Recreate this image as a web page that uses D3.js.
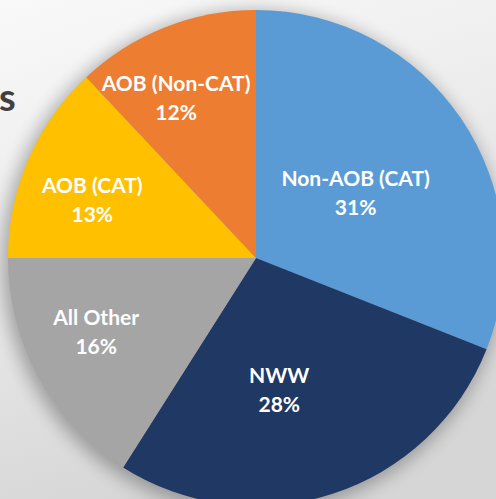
<!DOCTYPE html>
<html>
<head>
<meta charset="utf-8">
<script src="https://cdn.jsdelivr.net/npm/d3@7"></script>
<style>
  html, body { margin: 0; padding: 0; overflow: hidden; }
  svg { display: block; }
</style>
</head>
<body>
<div id="chart"></div>
<script>
// chart data
var categories = ["Non-AOB (CAT)", "NWW", "All Other", "AOB (CAT)", "AOB (Non-CAT)"];
var shares = [31, 28, 16, 13, 12];
var colors = ["#5b9bd5", "#1f3864", "#a5a5a5", "#ffc000", "#ed7d31"];

// label placement, as radius fraction and angle nudge (degrees)
var labelR = [0.48, 0.54, 0.71, 0.70, 0.72];
var labelNudge = [1, 8, 4, -4, -5];

var width = 496, height = 499;
var cx = 256, cy = 258, radius = 248;

var svg = d3.select("#chart")
  .append("svg")
  .attr("width", width)
  .attr("height", height);

var defs = svg.append("defs");

// background gradient
var bg = defs.append("linearGradient")
  .attr("id", "bg")
  .attr("x1", "0").attr("y1", "0")
  .attr("x2", "0.3").attr("y2", "1");
bg.append("stop").attr("offset", "0").attr("stop-color", "#f9f9f9");
bg.append("stop").attr("offset", "0.45").attr("stop-color", "#ececec");
bg.append("stop").attr("offset", "1").attr("stop-color", "#d6d6d6");

svg.append("rect")
  .attr("width", width)
  .attr("height", height)
  .attr("fill", "url(#bg)");

// soft shadow
var shadow = defs.append("filter")
  .attr("id", "shadow")
  .attr("x", "-20%").attr("y", "-20%")
  .attr("width", "140%").attr("height", "140%");
shadow.append("feGaussianBlur").attr("stdDeviation", 9);

// cut off title letter
svg.append("text")
  .attr("x", -1)
  .attr("y", 111)
  .attr("font-family", "Lato, 'Open Sans', sans-serif")
  .attr("font-weight", "bold")
  .attr("font-size", 38)
  .attr("fill", "#404040")
  .text("s");

var g = svg.append("g")
  .attr("transform", "translate(" + cx + "," + cy + ")");

g.append("circle")
  .attr("r", radius + 3)
  .attr("cx", -3)
  .attr("cy", 4)
  .attr("fill", "#000")
  .attr("opacity", 0.3)
  .attr("filter", "url(#shadow)");

var data = categories.map(function(c, i) { return {name: c, value: shares[i], i: i}; });

var pie = d3.pie()
  .value(function(d) { return d.value; })
  .sort(null);

var arc = d3.arc()
  .innerRadius(0)
  .outerRadius(radius);

var arcs = pie(data);

g.selectAll("path.slice")
  .data(arcs)
  .enter()
  .append("path")
  .attr("class", "slice")
  .attr("d", arc)
  .attr("fill", function(d) { return colors[d.data.i]; });

var labels = g.selectAll("g.label")
  .data(arcs)
  .enter()
  .append("g")
  .attr("class", "label")
  .attr("transform", function(d) {
    var a = (d.startAngle + d.endAngle) / 2 + labelNudge[d.data.i] * Math.PI / 180;
    var p = d3.pointRadial(a, radius * labelR[d.data.i]);
    return "translate(" + p[0] + "," + p[1] + ")";
  })
  .attr("font-family", "Lato, 'Open Sans', sans-serif")
  .attr("font-weight", "bold")
  .attr("font-size", 21)
  .attr("fill", "#ffffff")
  .attr("text-anchor", "middle");

labels.append("text")
  .attr("y", -7)
  .text(function(d) { return d.data.name; });

labels.append("text")
  .attr("y", 22)
  .text(function(d) { return d.data.value + "%"; });
</script>
</body>
</html>
